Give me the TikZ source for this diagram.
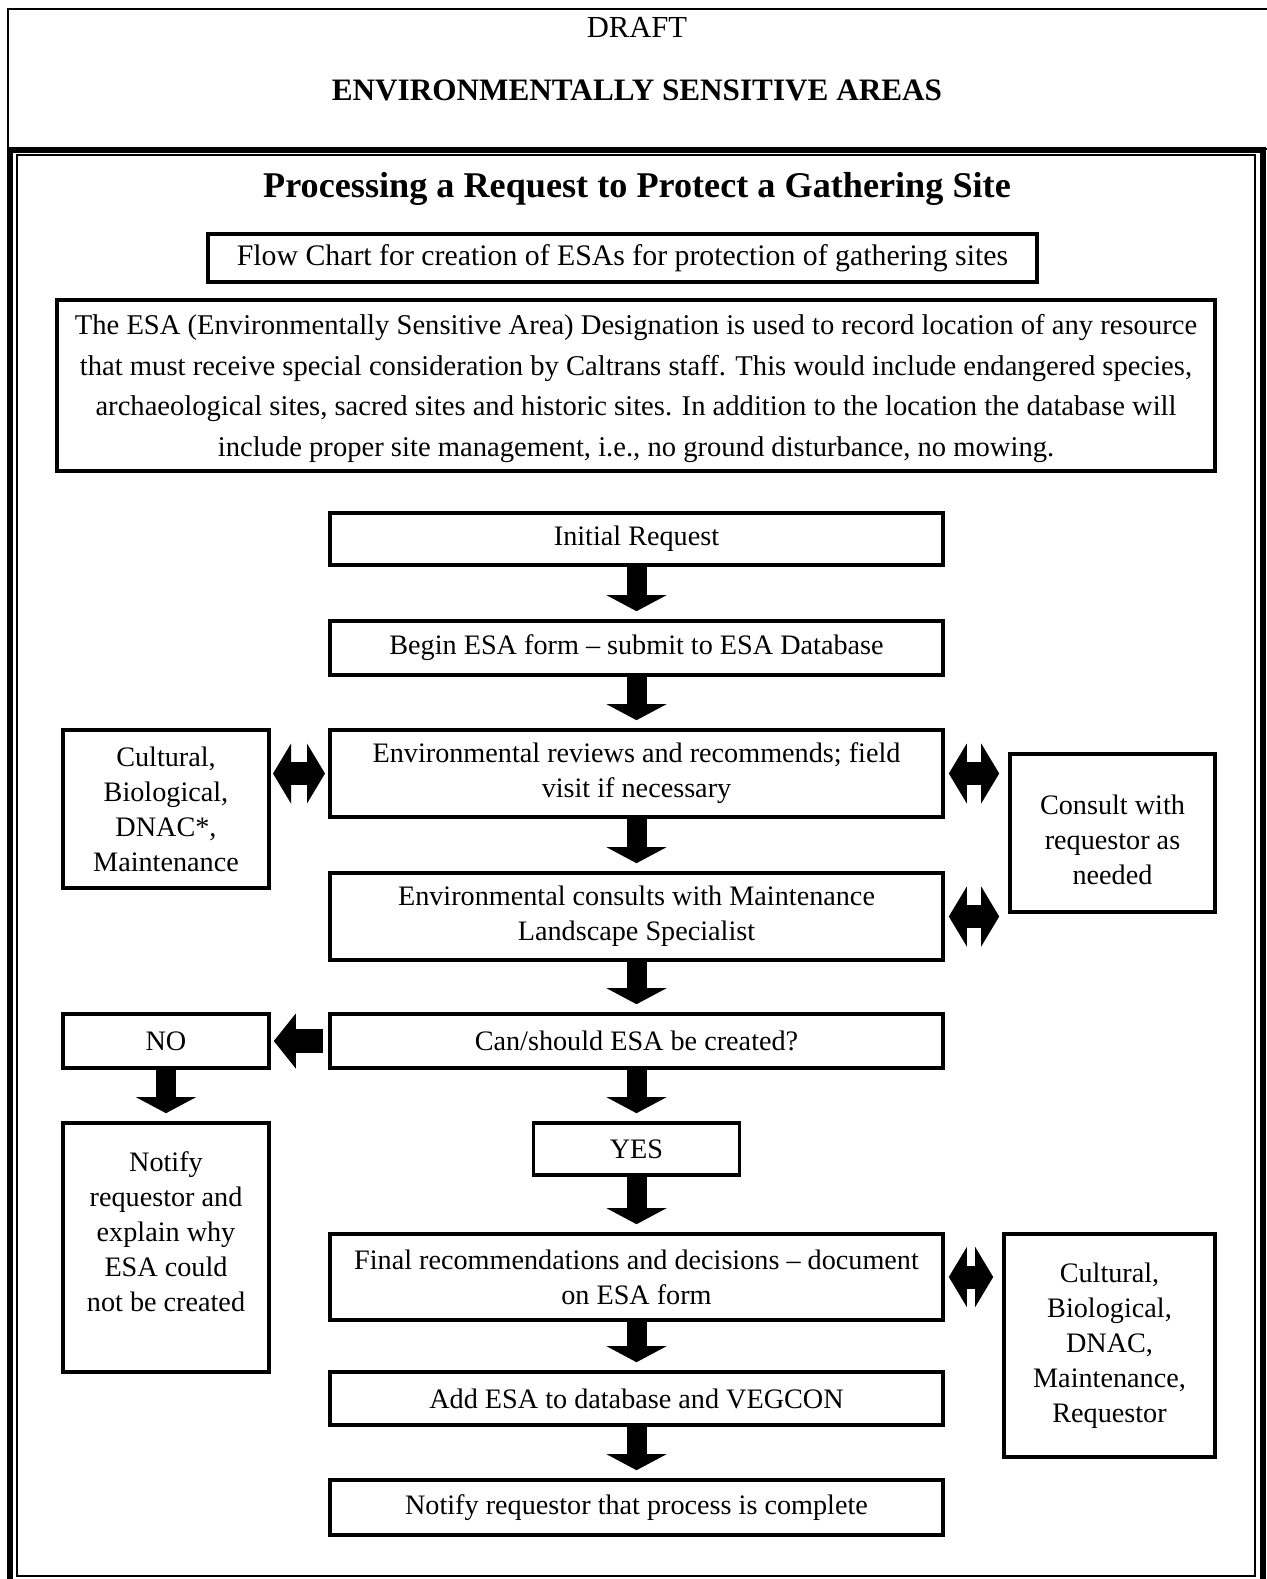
\documentclass[tikz,border=0pt]{standalone}
\usepackage{fontspec}
\setmainfont{Liberation Serif}
\usepackage{tikz}
\usetikzlibrary{positioning}
\usetikzlibrary{%
  arrows.meta%
}

\tikzset{
  stepbox/.style={draw, line width=1.8pt, inner sep=0pt, align=center, font=\fontsize{14.1}{17.5}\selectfont},
  midbox/.style={stepbox, minimum width=306.5pt},
  sidebox/.style={stepbox, minimum width=103pt},
  darr/.style={line width=10pt, -{Triangle[width=30pt,length=8pt,line width=0pt]}, shorten >=4pt},
  dblarr/.style={line width=11.5pt, {Triangle[width=30pt,length=9pt,line width=0pt]}-{Triangle[width=30pt,length=9pt,line width=0pt]}, shorten <=2pt, shorten >=4.5pt},
  larr/.style={line width=12pt, -{Triangle[width=27.5pt,length=11pt,line width=0pt]}, shorten <=2.5pt, shorten >=1.5pt}
}

\begin{document}
\begin{tikzpicture}[x=0.5pt, y=-0.5pt]
\useasboundingbox (0,0) rectangle (1267,1579);

% frames
\draw[line width=1.2pt] (8,9) rectangle (1290,149);
\draw[line width=3pt] (10,149.5) rectangle (1262.5,1590);
\draw[line width=1pt] (16.5,155) rectangle (1255,1576);

% headings
\node (draft) at (637,27) {\fontsize{15.3}{17}\selectfont DRAFT};
\node (esa) at (637,90) {\fontsize{15.6}{18}\selectfont\bfseries ENVIRONMENTALLY SENSITIVE AREAS};
\node (title) at (637,189) {\fontsize{18.1}{20}\selectfont\bfseries Processing a Request to Protect a Gathering Site};

\node[stepbox, minimum width=414.5pt, minimum height=24pt, font=\fontsize{14.9}{17}\selectfont] (flow) at (622.5,258) {Flow Chart for creation of ESAs for protection of gathering sites};
\node[stepbox, minimum width=579pt, minimum height=85.5pt, font=\fontsize{14.3}{20.2}\selectfont, text depth=-3pt] (desc) at (636,385.5) {The ESA (Environmentally Sensitive Area) Designation is used to record location of any resource\\that must receive special consideration by Caltrans staff. This would include endangered species,\\archaeological sites, sacred sites and historic sites. In addition to the location the database will\\include proper site management, i.e., no ground disturbance, no mowing.};

% main column
\node[midbox, minimum height=26pt] (init) at (636.5,539) {Initial Request};
\node[midbox, minimum height=27pt] (form) at (636.5,648) {Begin ESA form -- submit to ESA Database};
\node[midbox, minimum height=43.5pt] (rev) at (636.5,773.5) {Environmental reviews and recommends; field\\visit if necessary};
\node[midbox, minimum height=43.5pt] (cons) at (636.5,916.5) {Environmental consults with Maintenance\\Landscape Specialist};
\node[midbox, minimum height=27pt] (can) at (636.5,1041) {Can/should ESA be created?};
\node[sidebox, minimum height=26pt] (yes) at (636.5,1149) {YES};
\node[midbox, minimum height=43pt] (final) at (636.5,1277) {Final recommendations and decisions -- document\\on ESA form};
\node[midbox, minimum height=26.5pt] (add) at (636.5,1398.5) {Add ESA to database and VEGCON};
\node[midbox, minimum height=27.5pt] (done) at (636.5,1507.5) {Notify requestor that process is complete};

% side boxes
\node[sidebox, minimum height=79pt] (cultL) at (166,809) {Cultural,\\Biological,\\DNAC*,\\Maintenance};
\node[sidebox, minimum height=27pt] (no) at (166,1041) {NO};
\node[sidebox, minimum height=124.5pt, text depth=16pt] (notL) at (166,1247.5) {Notify\\requestor and\\explain why\\ESA could\\not be created};
\node[sidebox, minimum width=102.5pt, minimum height=79pt, text height=51pt, text depth=0pt] (consult) at (1112.5,833) {Consult with\\requestor as\\needed};
\node[sidebox, minimum width=105.5pt, minimum height=111.5pt] (cultR) at (1109.5,1345.5) {Cultural,\\Biological,\\DNAC,\\Maintenance,\\Requestor};

\draw
	(init) edge[darr] (form)
	(form) edge[darr] (rev)
	(rev) edge[darr] (cons)
	(cons) edge[darr] (can)
	(can) edge[darr] (yes)
	(yes) edge[darr] (final)
	(final) edge[darr] (add)
	(add) edge[darr] (done)
	(no) edge[darr] (notL)
	(can) edge[larr] (no)
	(rev.west) edge[dblarr, shorten <=1.6pt, shorten >=1.1pt] (rev.west -| cultL.east)
	(rev.east) edge[dblarr] (rev.east -| consult.west)
	(cons.east) edge[dblarr] (cons.east -| consult.west)
	(final.east) edge[dblarr] (final.east -| cultR.west)
;
\end{tikzpicture}
\end{document}
